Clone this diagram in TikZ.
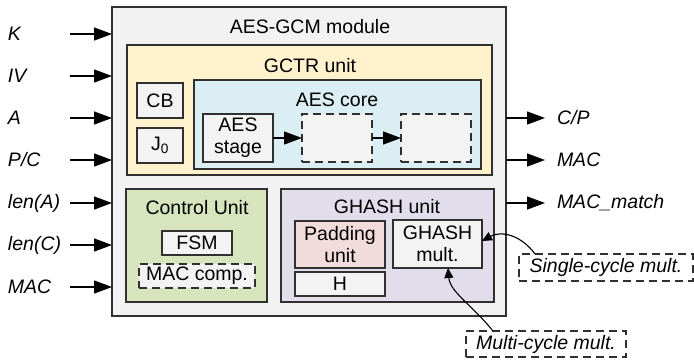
\documentclass[tikz,border=0pt]{standalone}
\usepackage{fontspec}
\setmainfont{Liberation Sans}
\usetikzlibrary{arrows.meta,calc}
\definecolor{modfill}{HTML}{F2F2F2}
\definecolor{gctrfill}{HTML}{FFF2CC}
\definecolor{corefill}{HTML}{DAEEF3}
\definecolor{ctrlfill}{HTML}{D7E4BD}
\definecolor{ghfill}{HTML}{E2DDEA}
\definecolor{padfill}{HTML}{F2DCDB}
\definecolor{boxfill}{HTML}{F3F3F3}
\definecolor{edge}{HTML}{303030}
\begin{document}
\begin{tikzpicture}[x=1pt,y=-1pt,
  every node/.style={font=\fontsize{19.5}{22}\selectfont, inner sep=0pt, outer sep=0pt},
  blk/.style={draw=edge, line width=1.3pt, rectangle},
  dsh/.style={blk, dash pattern=on 8pt off 5pt},
  ttl/.style={anchor=center},
  lbl/.style={anchor=west, font=\fontsize{19.5}{22}\selectfont\itshape},
  arr/.style={line width=1.3pt, -{Triangle[length=18pt,width=13pt]}},
  carr/.style={line width=1.1pt, -{Triangle[length=10pt,width=9pt]}}
]
\useasboundingbox (0,0) rectangle (694,360);
% containers
\node[blk, fill=modfill, minimum width=394pt, minimum height=309pt] (module) at (309,161.5) {};
\node[ttl] (moduleT) at (310,27) {AES-GCM module};
\node[blk, fill=gctrfill, minimum width=365pt, minimum height=130pt] (gctr) at (309.5,110) {};
\node[ttl] (gctrT) at (310,66) {GCTR unit};
\node[blk, fill=boxfill, minimum width=46pt, minimum height=35pt] (cb) at (160,100.5) {CB};
\node[blk, fill=boxfill, minimum width=46pt, minimum height=35pt] (j0) at (160,145.5) {J\textsubscript{0}};
\node[blk, fill=corefill, minimum width=287pt, minimum height=89pt] (core) at (337.5,124.5) {};
\node[ttl] (coreT) at (337,100) {AES core};
\node[blk, fill=boxfill, minimum width=70pt, minimum height=48pt, align=center] (st1) at (238,138) {AES\\stage};
\node[dsh, fill=boxfill, minimum width=70pt, minimum height=48pt] (st2) at (337,138) {};
\node[dsh, fill=boxfill, minimum width=70pt, minimum height=48pt] (st3) at (436,138) {};
\draw[arr] (st1.east) -- (st2.west);
\draw[arr] (st2.east) -- (st3.west);
% control unit
\node[blk, fill=ctrlfill, minimum width=141pt, minimum height=113pt] (ctrl) at (196.5,245.5) {};
\node[ttl] (ctrlT) at (197,208) {Control Unit};
\node[blk, fill=boxfill, minimum width=70pt, minimum height=24pt] (fsm) at (197,243) {FSM};
\node[dsh, fill=boxfill, minimum width=116pt, minimum height=24pt] (mcomp) at (197,276) {MAC comp.};
% ghash unit
\node[blk, fill=ghfill, minimum width=213pt, minimum height=113pt] (ghash) at (387.5,245.5) {};
\node[ttl] (ghashT) at (387,207) {GHASH unit};
\node[blk, fill=padfill, minimum width=90pt, minimum height=47pt, align=center] (pad) at (340,244.5) {Padding\\unit};
\node[blk, fill=boxfill, minimum width=90pt, minimum height=24pt] (hbox) at (340,284) {H};
\node[blk, fill=boxfill, minimum width=89pt, minimum height=48pt, align=center] (gmult) at (437.5,244) {GHASH\\mult.};
% annotations
\node[dsh, fill=white, minimum width=174pt, minimum height=27pt, font=\fontsize{19.5}{22}\selectfont\itshape] (single) at (606,267.5) {Single-cycle mult.};
\node[dsh, fill=white, minimum width=160pt, minimum height=26pt, font=\fontsize{19.5}{22}\selectfont\itshape] (multi) at (546,344) {Multi-cycle mult.};
\coordinate (sS) at ($(single.north west)+(16,0)$);
\coordinate (mS) at ($(multi.north west)+(27,0)$);
\coordinate (gR) at ($(gmult.north east)+(0,21)$);
\coordinate (gB) at ($(gmult.south west)+(55,0)$);
\draw[carr] (sS) .. controls (522,236) and (502,230) .. (gR);
\draw[carr] (mS) .. controls (472,305) and (450,292) .. (gB);
% inputs
\foreach \n/\t/\y in {iK/K/34, iIV/IV/76, iA/A/118, iPC/P\slash C/160, iLA/len(A)/203, iLC/len(C)/245, iMAC/MAC/287}{
  \node[lbl] (\n L) at (8,\y) {\t};
  \coordinate (\n) at (70,\y);
  \draw[arr] (\n) -- (\n -| module.west);
}
% outputs
\foreach \n/\t/\y in {oCP/C\slash P/118, oMAC/MAC/160, oMM/MAC\_match/203}{
  \coordinate (\n) at (545,\y);
  \draw[arr] (\n -| module.east) -- (\n);
  \node[lbl] (\n L) at (557,\y) {\t};
}
\end{tikzpicture}
\end{document}
